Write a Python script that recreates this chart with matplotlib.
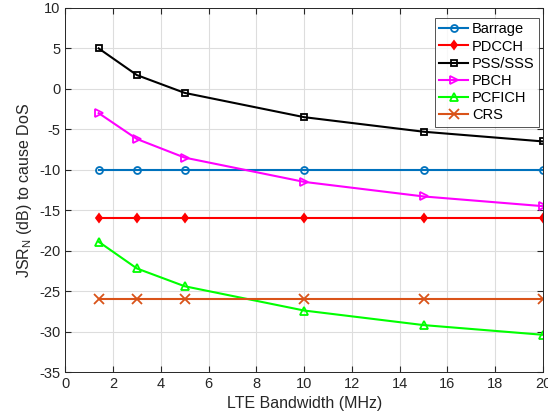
import matplotlib
matplotlib.use("Agg")
import matplotlib.pyplot as plt

bandwidth = [1.4, 3, 5, 10, 15, 20]
barrage = [-10, -10, -10, -10, -10, -10]
pdcch = [-16, -16, -16, -16, -16, -16]
pss_sss = [5.0, 1.7, -0.5, -3.5, -5.3, -6.5]
pbch = [-3.0, -6.2, -8.5, -11.5, -13.3, -14.5]
pcfich = [-18.9, -22.2, -24.4, -27.4, -29.2, -30.4]
crs = [-26, -26, -26, -26, -26, -26]

xticks = [0, 2, 4, 6, 8, 10, 12, 14, 16, 18, 20]
yticks = [-35, -30, -25, -20, -15, -10, -5, 0, 5, 10]

plt.rcParams['font.family'] = ['Liberation Sans', 'DejaVu Sans']
plt.rcParams['axes.unicode_minus'] = False

fig = plt.figure(figsize=(5.48, 4.18), dpi=100)
ax = fig.add_axes([0.119, 0.110, 0.872, 0.871])

series = [
    ("Barrage", barrage, '#0072BD', 'o', 'none', 5),
    ("PDCCH", pdcch, '#FF0000', 'd', '#FF0000', 4.5),
    ("PSS/SSS", pss_sss, '#000000', 's', 'none', 4.5),
    ("PBCH", pbch, '#FF00FF', '>', 'none', 6),
    ("PCFICH", pcfich, '#00FF00', '^', 'none', 6),
    ("CRS", crs, '#D95319', 'x', 'none', 6.5),
]
for name, vals, c, m, mfc, ms in series:
    ax.plot(bandwidth, vals, color=c, marker=m, markerfacecolor=mfc,
            markeredgecolor=c, markersize=ms, markeredgewidth=1.3,
            linewidth=1.5, label=name)

ax.set_xlim(0, 20)
ax.set_ylim(-35, 10)
ax.set_xticks(xticks)
ax.set_yticks(yticks)
ax.grid(True, color='#DDDDDD', linewidth=0.8)
ax.set_axisbelow(True)
for s in ax.spines.values():
    s.set_color('#262626')
    s.set_linewidth(0.7)
ax.tick_params(direction='in', length=4, labelsize=10.5, colors='#262626',
               top=True, right=True)
ax.set_xlabel("LTE Bandwidth (MHz)", fontsize=11.5, color='#262626')
ax.set_ylabel("JSR$_\\mathregular{N}$ (dB) to cause DoS", fontsize=11.5, color='#262626')

leg = ax.legend(loc='upper right', bbox_to_anchor=(1 - 4/478, 1 - 10/364),
                fontsize=10.5, frameon=True, fancybox=False,
                edgecolor='#262626', handlelength=2.0, handletextpad=0.25,
                borderpad=0.3, labelspacing=0.22, borderaxespad=0.0)
leg.get_frame().set_linewidth(0.7)

fig.savefig("out.png", dpi=100)
